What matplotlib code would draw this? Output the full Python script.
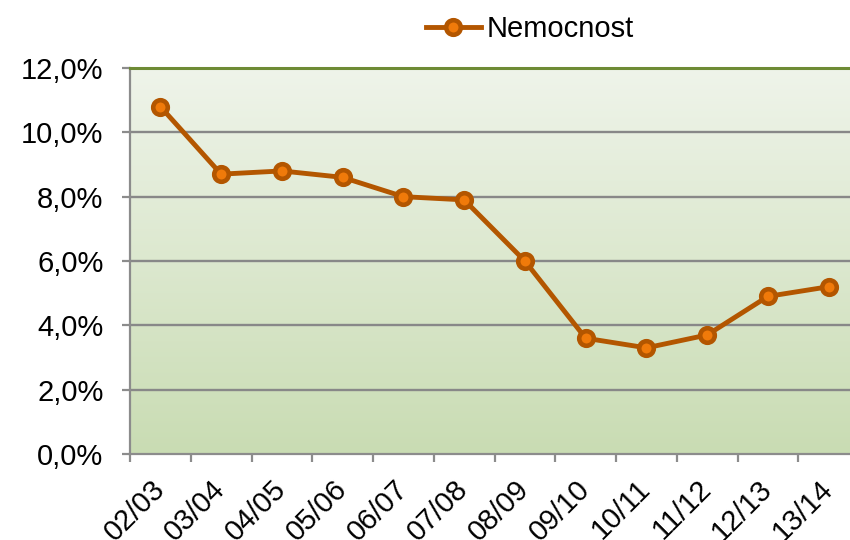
import numpy as np
import matplotlib.pyplot as plt
from matplotlib.colors import LinearSegmentedColormap
from matplotlib.ticker import FuncFormatter

# data
seasons = ["02/03", "03/04", "04/05", "05/06", "06/07", "07/08",
           "08/09", "09/10", "10/11", "11/12", "12/13", "13/14"]
nemocnost = [10.8, 8.7, 8.8, 8.6, 8.0, 7.9, 6.0, 3.6, 3.3, 3.7, 4.9, 5.2]
y_ticks = [0, 2, 4, 6, 8, 10, 12]

plt.rcParams["font.family"] = ["Liberation Sans", "DejaVu Sans"]

fig = plt.figure(figsize=(8.5, 5.4), dpi=100)
# plot area runs a little past the right edge, as in the original
ax = fig.add_axes([130 / 850, 86 / 540, 729 / 850, 386 / 540])

x = np.arange(len(seasons))
ax.set_xlim(-0.5, len(seasons) - 0.5)
ax.set_ylim(0, 12)

# vertical gradient background
cmap = LinearSegmentedColormap.from_list("bg", ["#c9dcb3", "#eff4ea"])
grad = np.linspace(0, 1, 256).reshape(-1, 1)
ax.imshow(grad, aspect="auto", cmap=cmap, origin="lower",
          extent=[-0.5, len(seasons) - 0.5, 0, 12], zorder=0)

for t in y_ticks[1:-1]:
    ax.axhline(t, color="#888888", linewidth=1.7, zorder=1)

ax.plot(x, nemocnost, color="#b35600", linewidth=3.5,
        marker="o", markersize=10.5, markerfacecolor="#f07a0a",
        markeredgecolor="#b35600", markeredgewidth=3.3,
        label="Nemocnost", zorder=3)

ax.spines["top"].set_color("#6e8b35")
ax.spines["top"].set_linewidth(2.2)
ax.spines["right"].set_visible(False)
for s in ["left", "bottom"]:
    ax.spines[s].set_color("#8c8c8c")
    ax.spines[s].set_linewidth(1.6)

ax.set_yticks(y_ticks)
ax.yaxis.set_major_formatter(
    FuncFormatter(lambda v, p: f"{v:.1f}".replace(".", ",") + "%"))
ax.tick_params(axis="y", length=6, width=1.6, color="#8c8c8c",
               labelsize=21, pad=13)

# ticks between categories, labels under the points
ax.set_xticks(np.arange(len(seasons)) - 0.5, minor=False)
ax.set_xticklabels([])
ax.set_xticks(x, minor=True)
ax.set_xticklabels(seasons, minor=True, rotation=45, ha="right",
                   va="center", rotation_mode="anchor", fontsize=21)
ax.tick_params(axis="x", which="major", length=6, width=1.6,
               color="#8c8c8c")
ax.tick_params(axis="x", which="minor", length=0, pad=22)

fig.legend(loc="center", bbox_to_anchor=(530 / 850, 1 - 29 / 540),
           frameon=False, fontsize=21, handlelength=1.9,
           handletextpad=0.2, borderaxespad=0)

fig.savefig("out.png", dpi=100)
